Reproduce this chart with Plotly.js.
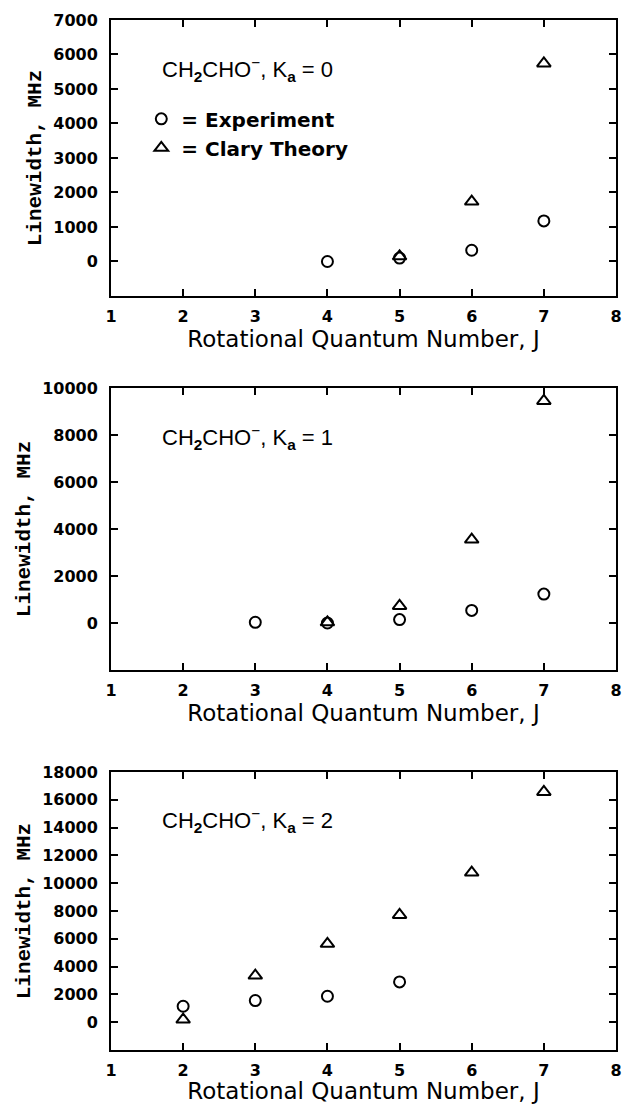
<!DOCTYPE html>
<html>
<head>
<meta charset="utf-8">
<script src="https://cdn.plot.ly/plotly-3.0.1.min.js"></script>
<style>html,body{margin:0;padding:0;background:#fff;}</style>
</head>
<body>
<div id="chart" style="width:623px;height:1104px;"></div>
<script>
// Panel 1: Ka = 0
const j0Exp = [4, 5, 6, 7];
const lw0Exp = [0, 100, 325, 1175];
const j0Th = [5, 6, 7];
const lw0Th = [150, 1735, 5740];

// Panel 2: Ka = 1
const j1Exp = [3, 4, 5, 6, 7];
const lw1Exp = [30, 0, 145, 536, 1230];
const j1Th = [4, 5, 6, 7];
const lw1Th = [30, 725, 3550, 9450];

// Panel 3: Ka = 2
const j2Exp = [2, 3, 4, 5];
const lw2Exp = [1150, 1560, 1870, 2900];
const j2Th = [2, 3, 4, 5, 6, 7];
const lw2Th = [190, 3360, 5640, 7720, 10770, 16570];

const xTicks = [1, 2, 3, 4, 5, 6, 7, 8];
const yTicks1 = [0, 1000, 2000, 3000, 4000, 5000, 6000, 7000];
const yTicks2 = [0, 2000, 4000, 6000, 8000, 10000];
const yTicks3 = [0, 2000, 4000, 6000, 8000, 10000, 12000, 14000, 16000, 18000];

const panelLabels = [
  "CH<sub><b>2</b></sub>CHO<sup>−</sup>, K<sub><b>a</b></sub> = 0",
  "CH<sub><b>2</b></sub>CHO<sup>−</sup>, K<sub><b>a</b></sub> = 1",
  "CH<sub><b>2</b></sub>CHO<sup>−</sup>, K<sub><b>a</b></sub> = 2"
];
const labelY = [5560, 7900, 14520];
const expName = "= Experiment";
const thName = "= Clary Theory";

const expMarker = {symbol: 'circle-open', size: 11, color: '#000', line: {width: 2, color: '#000'}};
const thMarker = {symbol: 'triangle-up-open', size: 12, color: '#000', line: {width: 2, color: '#000'}};

const traces = [
  {x: j0Exp, y: lw0Exp, xaxis: 'x', yaxis: 'y', mode: 'markers', name: expName, marker: expMarker, showlegend: true, legendgroup: 'e'},
  {x: j0Th, y: lw0Th, xaxis: 'x', yaxis: 'y', mode: 'markers', name: thName, marker: thMarker, showlegend: true, legendgroup: 't'},
  {x: j1Exp, y: lw1Exp, xaxis: 'x2', yaxis: 'y2', mode: 'markers', name: expName, marker: expMarker, showlegend: false, legendgroup: 'e'},
  {x: j1Th, y: lw1Th, xaxis: 'x2', yaxis: 'y2', mode: 'markers', name: thName, marker: thMarker, showlegend: false, legendgroup: 't'},
  {x: j2Exp, y: lw2Exp, xaxis: 'x3', yaxis: 'y3', mode: 'markers', name: expName, marker: expMarker, showlegend: false, legendgroup: 'e'},
  {x: j2Th, y: lw2Th, xaxis: 'x3', yaxis: 'y3', mode: 'markers', name: thName, marker: thMarker, showlegend: false, legendgroup: 't'}
];

const tickFont = {family: 'DejaVu Sans', size: 16, color: '#000', weight: 'bold'};

function xAxis(anchor) {
  return {
    anchor: anchor, domain: [0, 1], range: [1, 8],
    tickvals: xTicks, ticktext: xTicks.map(String),
    ticks: 'inside', ticklen: 7, tickwidth: 2, tickcolor: '#000',
    showline: true, linewidth: 2, linecolor: '#000', mirror: 'ticks',
    showgrid: false, zeroline: false,
    tickfont: tickFont, ticklabelstandoff: 5,
    title: {text: 'Rotational Quantum Number, J', font: {family: 'DejaVu Sans', size: 23, color: '#000'}, standoff: 0}
  };
}
function yAxis(anchor, domain, range, ticks) {
  return {
    anchor: anchor, domain: domain, range: range,
    tickvals: ticks, ticktext: ticks.map(String),
    ticks: 'inside', ticklen: 7, tickwidth: 2, tickcolor: '#000',
    showline: true, linewidth: 2, linecolor: '#000', mirror: 'ticks',
    showgrid: false, zeroline: false,
    tickfont: tickFont, ticklabelstandoff: 8,
    title: {text: 'Linewidth, MHz', font: {family: 'Liberation Mono', size: 21, color: '#000', weight: 'bold'}, standoff: 6}
  };
}

const annFont = {family: 'Liberation Sans, Arial, sans-serif', size: 22, color: '#000'};
const annotations = panelLabels.map((t, i) => ({
  text: t, xref: i === 0 ? 'x' : 'x' + (i + 1), yref: i === 0 ? 'y' : 'y' + (i + 1),
  x: 1.68, y: labelY[i], xanchor: 'left', yanchor: 'middle', showarrow: false, font: annFont
}));

const layout = {
  width: 623, height: 1104,
  margin: {l: 111, r: 7, t: 0, b: 0},
  paper_bgcolor: '#fff', plot_bgcolor: '#fff',
  showlegend: true,
  legend: {x: 0.06, y: 0.910, xanchor: 'left', yanchor: 'top', bgcolor: 'rgba(0,0,0,0)',
           font: {family: 'DejaVu Sans', size: 20, color: '#000', weight: 'bold'}, tracegroupgap: 0},
  xaxis: xAxis('y'),
  xaxis2: xAxis('y2'),
  xaxis3: xAxis('y3'),
  yaxis: yAxis('x', [0.7319, 0.9819], [-1000, 7000], yTicks1),
  yaxis2: yAxis('x2', [0.3931, 0.6486], [-2000, 10000], yTicks2),
  yaxis3: yAxis('x3', [0.0489, 0.3007], [-2000, 18000], yTicks3),
  annotations: annotations
};

Plotly.newPlot('chart', traces, layout, {displayModeBar: false, staticPlot: true});
</script>
</body>
</html>
